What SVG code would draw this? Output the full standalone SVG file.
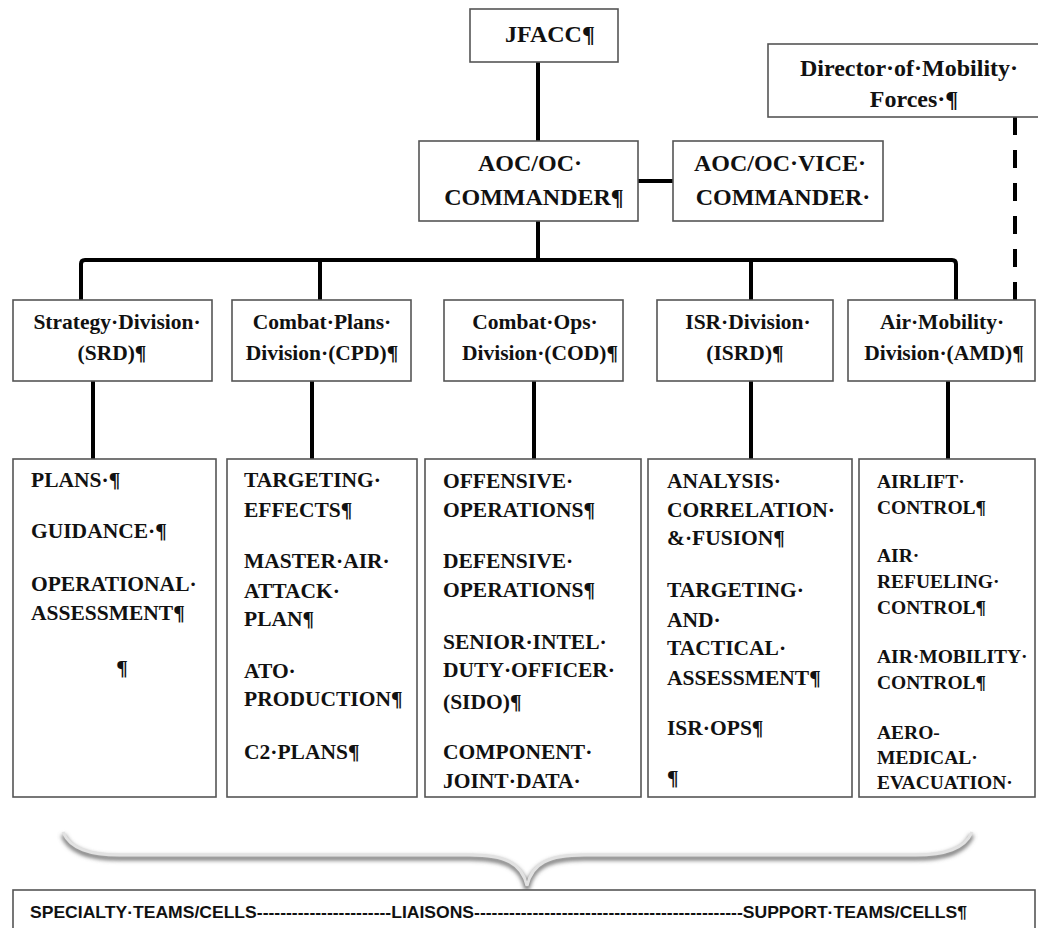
<svg xmlns="http://www.w3.org/2000/svg" width="1038" height="928" viewBox="0 0 1038 928">
  <style>
    .box { fill: #ffffff; stroke: #555555; stroke-width: 1.6; }
    .link { fill: none; stroke: #000000; stroke-width: 4; stroke-linejoin: round; }
    .dash { fill: none; stroke: #000000; stroke-width: 4; stroke-dasharray: 18 15; }
    .t { font-family: "Liberation Serif", "Times New Roman", serif; font-weight: bold; font-size: 21.5px; fill: #111111; }
    .top { font-size: 24px; }
    .div { font-size: 21.5px; }
    .sm { font-size: 19.5px; }
    .c { text-anchor: middle; }
    .foot { font-family: "Liberation Sans", Arial, sans-serif; font-weight: bold; font-size: 17px; fill: #111111; }
  </style>
  <defs>
    <filter id="soft" x="-5%" y="-50%" width="110%" height="200%">
      <feGaussianBlur stdDeviation="2"/>
    </filter>
  </defs>

  <rect width="1038" height="928" fill="#ffffff"/>

  <!-- connectors -->
  <g id="connectors">
    <path class="link" d="M538 62 V141"/>
    <path class="link" d="M638 181 H673"/>
    <path class="link" d="M538 221 V260"/>
    <path class="link" d="M81 300 V264 Q81 260 85 260 H952 Q956 260 956 264 V300"/>
    <path class="link" d="M320 260 V300"/>
    <path class="link" d="M751 260 V300"/>
    <path class="dash" d="M1015 117 V300"/>
    <path class="link" d="M93 381 V459"/>
    <path class="link" d="M312 381 V459"/>
    <path class="link" d="M534 381 V459"/>
    <path class="link" d="M751 381 V459"/>
    <path class="link" d="M948 381 V459"/>
  </g>

  <!-- top command -->
  <g id="jfacc">
    <rect class="box" x="470" y="9" width="148" height="53"/>
    <text class="t top c" x="550" y="42">JFACC¶</text>
  </g>
  <g id="director-mobility">
    <rect class="box" x="768" y="44" width="290" height="73"/>
    <text class="t top c" x="909" y="76">Director·of·Mobility·</text>
    <text class="t top c" x="914" y="107">Forces·¶</text>
  </g>
  <g id="aoc-commander">
    <rect class="box" x="419" y="141" width="219" height="80"/>
    <text class="t top c" x="530" y="171">AOC/OC·</text>
    <text class="t top c" x="534" y="205">COMMANDER¶</text>
  </g>
  <g id="aoc-vice-commander">
    <rect class="box" x="673" y="141" width="210" height="80"/>
    <text class="t top c" x="780" y="171">AOC/OC·VICE·</text>
    <text class="t top c" x="783" y="205">COMMANDER·</text>
  </g>

  <!-- divisions -->
  <g id="srd">
    <rect class="box" x="13" y="300" width="199" height="81"/>
    <text class="t div c" x="117" y="329">Strategy·Division·</text>
    <text class="t div c" x="112" y="360">(SRD)¶</text>
  </g>
  <g id="cpd">
    <rect class="box" x="232" y="300" width="179" height="81"/>
    <text class="t div c" x="322" y="329">Combat·Plans·</text>
    <text class="t div c" x="322" y="360">Division·(CPD)¶</text>
  </g>
  <g id="cod">
    <rect class="box" x="444" y="300" width="179" height="81"/>
    <text class="t div c" x="535" y="329">Combat·Ops·</text>
    <text class="t div c" x="540" y="360">Division·(COD)¶</text>
  </g>
  <g id="isrd">
    <rect class="box" x="657" y="300" width="176" height="81"/>
    <text class="t div c" x="748" y="329">ISR·Division·</text>
    <text class="t div c" x="745" y="360">(ISRD)¶</text>
  </g>
  <g id="amd">
    <rect class="box" x="848" y="300" width="187" height="81"/>
    <text class="t div c" x="942" y="329">Air·Mobility·</text>
    <text class="t div c" x="944" y="360">Division·(AMD)¶</text>
  </g>

  <!-- division functions -->
  <g id="srd-functions">
    <rect class="box" x="13" y="459" width="203" height="338"/>
    <text class="t" x="31" y="487">PLANS·¶</text>
    <text class="t" x="31" y="538">GUIDANCE·¶</text>
    <text class="t" x="31" y="591">OPERATIONAL·</text>
    <text class="t" x="31" y="620">ASSESSMENT¶</text>
    <text class="t c" x="122" y="675">¶</text>
  </g>
  <g id="cpd-functions">
    <rect class="box" x="227" y="459" width="190" height="338"/>
    <text class="t" x="244" y="487">TARGETING·</text>
    <text class="t" x="244" y="517">EFFECTS¶</text>
    <text class="t" x="244" y="568">MASTER·AIR·</text>
    <text class="t" x="244" y="598">ATTACK·</text>
    <text class="t" x="244" y="626">PLAN¶</text>
    <text class="t" x="244" y="678">ATO·</text>
    <text class="t" x="244" y="706">PRODUCTION¶</text>
    <text class="t" x="244" y="759">C2·PLANS¶</text>
  </g>
  <g id="cod-functions">
    <rect class="box" x="425" y="459" width="216" height="338"/>
    <text class="t" x="443" y="488">OFFENSIVE·</text>
    <text class="t" x="443" y="517">OPERATIONS¶</text>
    <text class="t" x="443" y="568">DEFENSIVE·</text>
    <text class="t" x="443" y="597">OPERATIONS¶</text>
    <text class="t" x="443" y="649">SENIOR·INTEL·</text>
    <text class="t" x="443" y="677">DUTY·OFFICER·</text>
    <text class="t" x="443" y="709">(SIDO)¶</text>
    <text class="t" x="443" y="759">COMPONENT·</text>
    <text class="t" x="443" y="788">JOINT·DATA·</text>
  </g>
  <g id="isrd-functions">
    <rect class="box" x="648" y="459" width="204" height="338"/>
    <text class="t" x="667" y="488">ANALYSIS·</text>
    <text class="t" x="667" y="517">CORRELATION·</text>
    <text class="t" x="667" y="545">&amp;·FUSION¶</text>
    <text class="t" x="667" y="597">TARGETING·</text>
    <text class="t" x="667" y="627">AND·</text>
    <text class="t" x="667" y="655">TACTICAL·</text>
    <text class="t" x="667" y="685">ASSESSMENT¶</text>
    <text class="t" x="667" y="735">ISR·OPS¶</text>
    <text class="t" x="667" y="785">¶</text>
  </g>
  <g id="amd-functions">
    <rect class="box" x="859" y="459" width="176" height="338"/>
    <text class="t sm" x="877" y="488">AIRLIFT·</text>
    <text class="t sm" x="877" y="514">CONTROL¶</text>
    <text class="t sm" x="877" y="562">AIR·</text>
    <text class="t sm" x="877" y="588">REFUELING·</text>
    <text class="t sm" x="877" y="614">CONTROL¶</text>
    <text class="t sm" x="877" y="663">AIR·MOBILITY·</text>
    <text class="t sm" x="877" y="689">CONTROL¶</text>
    <text class="t sm" x="877" y="739">AERO-</text>
    <text class="t sm" x="877" y="764">MEDICAL·</text>
    <text class="t sm" x="877" y="789">EVACUATION·</text>
  </g>

  <!-- brace grouping the divisions -->
  <g id="brace">
    <path d="M63 832 C70 849 90 855 120 855 H470 C505 855 522 863 527 886 C532 863 549 855 584 855 H915 C945 855 965 849 972 832" fill="none" stroke="#6e6e6e" stroke-width="4.5" filter="url(#soft)" transform="translate(0 3)"/>
    <path d="M63 832 C70 849 90 855 120 855 H470 C505 855 522 863 527 886 C532 863 549 855 584 855 H915 C945 855 965 849 972 832" fill="none" stroke="#e2e2e2" stroke-width="3"/>
  </g>

  <!-- supporting teams bar -->
  <g id="teams">
    <rect class="box" x="13" y="890" width="1022" height="45"/>
    <text class="foot" x="30" y="918" textLength="937" lengthAdjust="spacingAndGlyphs">SPECIALTY·TEAMS/CELLS-----------------------LIAISONS----------------------------------------------SUPPORT·TEAMS/CELLS¶</text>
  </g>
</svg>
